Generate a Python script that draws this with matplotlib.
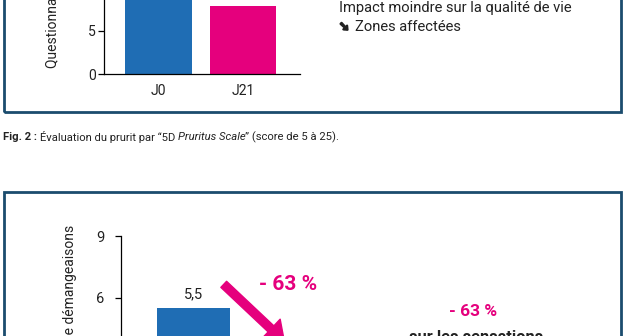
import matplotlib
matplotlib.use("Agg")
import matplotlib.pyplot as plt
import matplotlib.patheffects as pe
from matplotlib.patches import Rectangle

W, H = 626, 336
plt.rcParams['font.family'] = ['Roboto', 'DejaVu Sans']

# Data
top_categories = ["J0", "J21"]
top_values = [12.8, 7.9]
top_value_labels = ["12,8", "7,9"]
top_yticks = [0, 5, 10, 15, 20]

bottom_categories = ["J0", "J21"]
bottom_values = [5.5, 2.0]
bottom_value_labels = ["5,5", "2,0"]
bottom_yticks = [0, 3, 6, 9]
reduction_label = "- 63 %"

BLUE = "#1f6db4"
PINK = "#e5007d"
FRAME = "#1b4c6e"
TEXT = "#222222"


def fx(x):
    return x / W


def fy(y):
    return 1 - y / H


fig = plt.figure(figsize=(W / 100, H / 100), dpi=100)
fig.patch.set_facecolor("white")
renderer = fig.canvas.get_renderer()

# Panel frames
for (x0, y0, x1, y1) in [(4, -60, 621, 112), (4, 192, 621, 420)]:
    fig.add_artist(Rectangle((fx(x0), fy(y1)), fx(x1) - fx(x0), fy(y0) - fy(y1),
                             transform=fig.transFigure, fill=False,
                             edgecolor=FRAME, linewidth=2.0, clip_on=False))

# ---- Upper chart (5D pruritus questionnaire) ----
px_per_unit = 8.6
ax1 = fig.add_axes([fx(104), fy(74), fx(300) - fx(104), 20 * px_per_unit / H])
ax1.bar(range(len(top_values)), top_values, width=0.79, color=[BLUE, PINK])
for i, (v, lab) in enumerate(zip(top_values, top_value_labels)):
    ax1.annotate(lab, (i, v), xytext=(0, 5), textcoords="offset points",
                 ha="center", va="bottom", fontsize=10.5, color=TEXT,
                 annotation_clip=False)
ax1.set_xlim(-0.645, 1.675)
ax1.set_ylim(0, 20)
ax1.set_yticks(top_yticks)
ax1.set_xticks(range(len(top_categories)))
ax1.set_xticklabels(top_categories)
ax1.tick_params(axis="x", length=0, pad=7, labelsize=10, labelcolor=TEXT)
ax1.tick_params(axis="y", length=4, width=0.9, pad=2, labelsize=10, labelcolor=TEXT)
for s in ["top", "right"]:
    ax1.spines[s].set_visible(False)
for s in ["left", "bottom"]:
    ax1.spines[s].set_linewidth(0.9)
ax1.patch.set_alpha(0)
fig.text(fx(52), fy(68), "Questionnaire 5D", rotation=90, ha="center", va="bottom",
         fontsize=10, color=TEXT)

fig.text(fx(339), fy(8), "Impact moindre sur la qualité de vie", ha="left",
         va="center", fontsize=10.6, color=TEXT)
fig.text(fx(339), fy(27), "➘", ha="left", va="center",
         fontsize=9, fontweight="bold", family="DejaVu Sans", color=TEXT,
         path_effects=[pe.withStroke(linewidth=1.6, foreground=TEXT)])
fig.text(fx(355), fy(27), "Zones affectées", ha="left", va="center",
         fontsize=10.6, color=TEXT)

# ---- Caption ----
pieces = [("Fig. 2 : ", "bold", "normal"),
          ("Évaluation du prurit par “5D ", "normal", "normal"),
          ("Pruritus Scale", "normal", "italic"),
          ("” (score de 5 à 25).", "normal", "normal")]
xcur = 3
for txt, weight, style in pieces:
    t = fig.text(fx(xcur), fy(137), txt, ha="left", va="center", fontsize=8.15,
                 fontweight=weight, fontstyle=style, color=TEXT)
    bb = t.get_window_extent(renderer)
    xcur += bb.width

# ---- Lower chart (itch intensity) ----
ppu = 20.4
base_y = 420
ax2 = fig.add_axes([fx(121), fy(base_y), fx(345) - fx(121), 9 * ppu / H])
ax2.bar(range(len(bottom_values)), bottom_values, width=0.79, color=[BLUE, PINK])
for i, (v, lab) in enumerate(zip(bottom_values, bottom_value_labels)):
    ax2.annotate(lab, (i, v), xytext=(0, 5), textcoords="offset points",
                 ha="center", va="bottom", fontsize=10.5, color=TEXT,
                 annotation_clip=False)
ax2.set_xlim(-0.788, 1.65)
ax2.set_ylim(0, 9)
ax2.set_yticks(bottom_yticks)
ax2.set_xticks([])
ax2.tick_params(axis="y", length=4, width=0.9, pad=8, labelsize=10.5, labelcolor=TEXT)
for s in ["top", "right", "bottom"]:
    ax2.spines[s].set_visible(False)
ax2.spines["left"].set_linewidth(0.9)
ax2.patch.set_alpha(0)
fig.text(fx(70), fy(225), "Score de démangeaisons", rotation=90, ha="center",
         va="top", fontsize=10, color=TEXT)

# Reduction arrow from the J0 bar towards the J21 bar
ax2.annotate("", xy=(0.99, 3.85), xytext=(0.33, 6.65),
             arrowprops=dict(arrowstyle="simple,head_length=1.1,head_width=1.6,tail_width=0.5",
                             color=PINK, mutation_scale=12, shrinkA=0, shrinkB=0),
             annotation_clip=False)
ax2.text(1.03, 6.62, reduction_label, ha="center", va="center", fontsize=15,
         fontweight="bold", color=PINK, clip_on=False)

fig.text(fx(473), fy(312), reduction_label, ha="center", va="center", fontsize=12.5,
         fontweight="bold", color=PINK)
fig.text(fx(476), fy(337), "sur les sensations", ha="center", va="center",
         fontsize=11.8, fontweight="bold", color=TEXT)

fig.savefig("out.png", dpi=100, facecolor="white")
